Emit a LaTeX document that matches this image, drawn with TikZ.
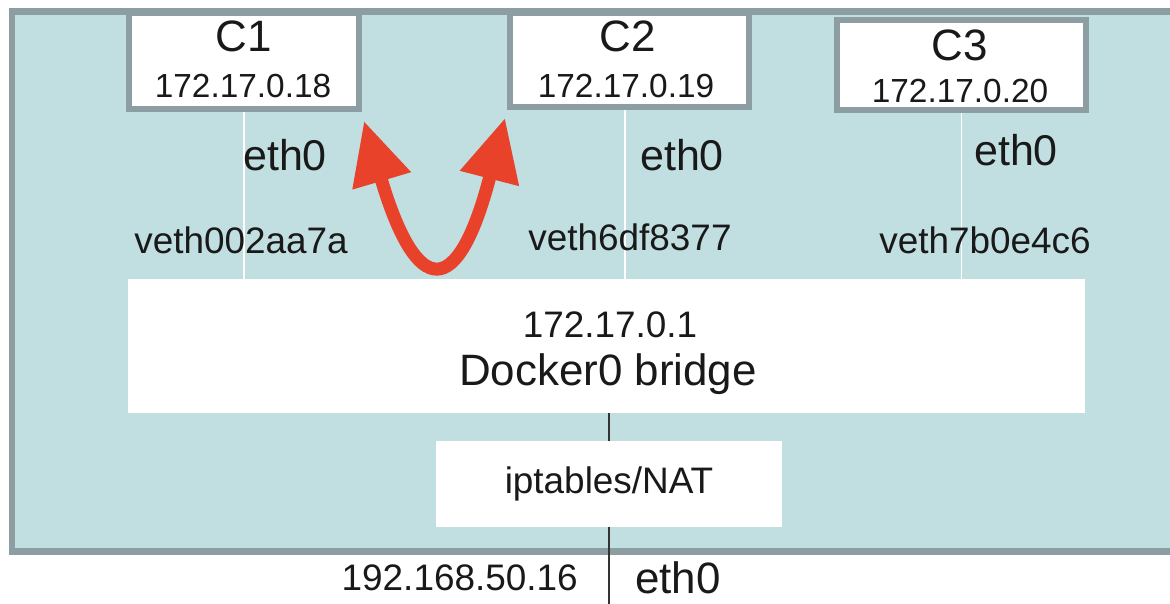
\documentclass[tikz,border=0pt]{standalone}
\usepackage{fontspec}
\setmainfont{Liberation Sans}
\usepackage{xcolor}
\usetikzlibrary{arrows.meta}

\definecolor{hostfill}{RGB}{193,222,225}
\definecolor{hostline}{RGB}{140,158,161}
\definecolor{arrowred}{RGB}{232,66,43}
\definecolor{textdark}{RGB}{25,25,25}
\newcommand\setfs[1]{\fontsize{#1}{#1}\selectfont}

\begin{document}
\begin{tikzpicture}[
  x=0.02cm, y=-0.02cm,
  cbox/.style = {
    rectangle,
    draw=hostline,
    fill=white,
    line width=0.12cm,
    inner sep=0pt},
  wbox/.style = {
    rectangle,
    fill=white,
    inner sep=0pt},
  lbl/.style = {inner sep=0pt, text depth=0pt, text=textdark},
  cname/.style = {lbl, font=\setfs{25}},
  cip/.style = {lbl, font=\setfs{19}},
  ifname/.style = {lbl, font=\setfs{24.5}},
  vname/.style = {lbl, font=\setfs{21}},
  vlink/.style = {white, line width=0.8pt},
  hlink/.style = {black!80, line width=1.2pt}
  ]
\clip (0,0) rectangle (1170,604);

% host
\draw[draw=hostline, fill=hostfill, line width=0.14cm] (12,12) rectangle (1220,551);

% containers
\node(c1)[cbox, minimum width=4.6cm, minimum height=1.92cm] at (244,61) {};
\node(c2)[cbox, minimum width=4.78cm, minimum height=1.88cm] at (629.5,60) {};
\node(c3)[cbox, minimum width=4.98cm, minimum height=1.8cm] at (961.5,65) {};

% bridge and nat
\node(bridge)[wbox, minimum width=19.14cm, minimum height=2.68cm] at (606.5,346) {};
\node(nat)[wbox, minimum width=6.92cm, minimum height=1.72cm, font=\setfs{21}, text=textdark] at (609,484) {iptables/NAT};
\coordinate(uplink) at (609,610);

\draw[vlink] (c1.south) -- (c1.south |- bridge.north);
\draw[vlink] ([xshift=-0.09cm]c2.south) -- ([xshift=-0.09cm]c2.south |- bridge.north);
\draw[vlink] (c3.south) -- (c3.south |- bridge.north);
\draw[hlink] (nat.north |- bridge.south) -- (nat.north);
\draw[hlink] (nat.south) -- (uplink);

% labels
\node(c1name)[cname] at (244,36) {C1};
\node(c1ip)[cip] at (243,86) {172.17.0.18};
\node(c2name)[cname] at (628,36) {C2};
\node(c2ip)[cip] at (626,86) {172.17.0.19};
\node(c3name)[cname] at (960,45) {C3};
\node(c3ip)[cip] at (960,91) {172.17.0.20};

\node(c1eth)[ifname] at (285,155) {eth0};
\node(c2eth)[ifname] at (682,155) {eth0};
\node(c3eth)[ifname] at (1016,150) {eth0};

\node(c1veth)[vname] at (241,240) {veth002aa7a};
\node(c2veth)[vname] at (630,237) {veth6df8377};
\node(c3veth)[vname] at (985,240) {veth7b0e4c6};

\node(brip)[lbl, font=\setfs{21}] at (610,325) {172.17.0.1};
\node(brname)[lbl, font=\setfs{25}] at (608,370) {Docker0 bridge};

\node(hostip)[lbl, font=\setfs{21}, anchor=east] at (578,578) {192.168.50.16};
\node(hosteth)[lbl, font=\setfs{25}, anchor=west] at (635,578) {eth0};

% c1 <-> c2 through the bridge
\draw[arrowred, line width=0.26cm,
  {Triangle[length=1.25cm,width=1.15cm]}-{Triangle[length=1.25cm,width=1.15cm]}]
  ([shift={(2,9)}]c1.south east) .. controls (417,300) and (458,300) .. ([shift={(-2,8)}]c2.south west);

\end{tikzpicture}
\end{document}
